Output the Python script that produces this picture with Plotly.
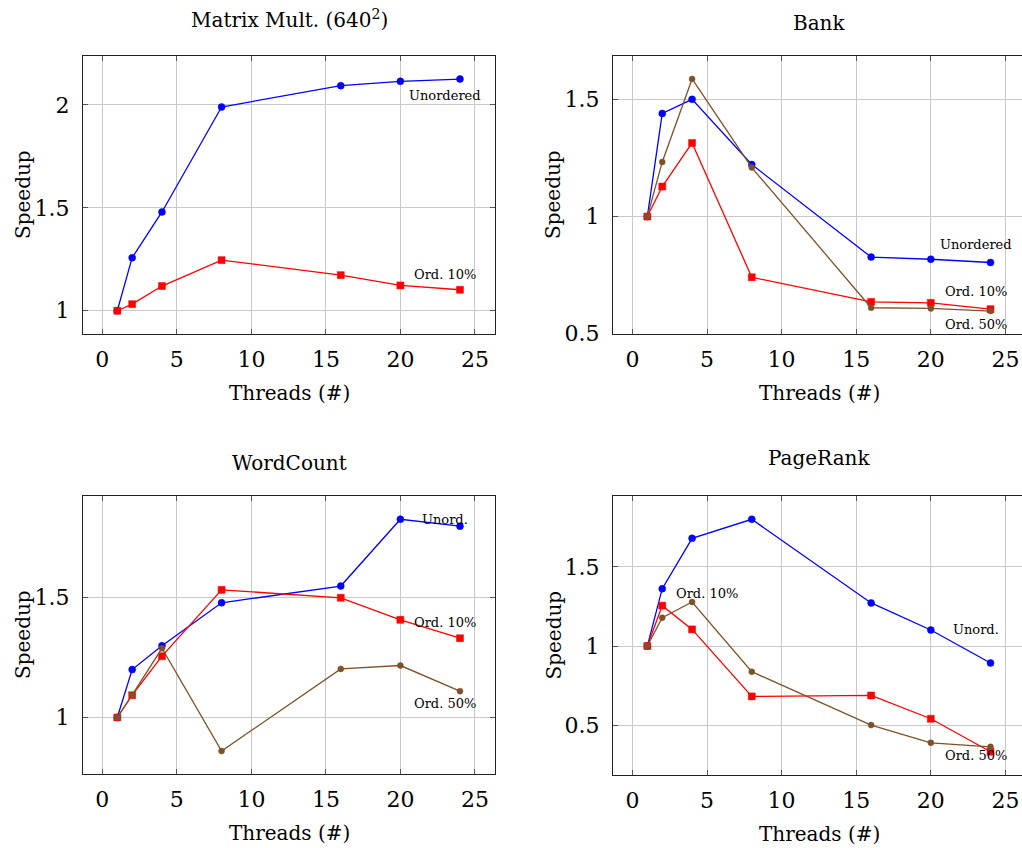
import plotly.graph_objects as go

W, H = 1022, 848

threads = [1, 2, 4, 8, 16, 20, 24]

# Matrix multiplication (640^2)
mm_unordered = [1.0, 1.258, 1.48, 1.99, 2.094, 2.115, 2.126]
mm_ord10 = [1.0, 1.032, 1.12, 1.246, 1.173, 1.123, 1.102]

# Bank
bank_unordered = [1.0, 1.44, 1.5, 1.222, 0.827, 0.818, 0.804]
bank_ord10 = [1.0, 1.128, 1.314, 0.741, 0.636, 0.632, 0.605]
bank_ord50 = [1.0, 1.233, 1.587, 1.209, 0.611, 0.608, 0.597]

# WordCount
wc_unordered = [1.0, 1.2, 1.3, 1.479, 1.549, 1.828, 1.799]
wc_ord10 = [1.0, 1.093, 1.256, 1.533, 1.5, 1.408, 1.331]
wc_ord50 = [1.0, 1.094, 1.289, 0.86, 1.203, 1.217, 1.11]

# PageRank
pr_unordered = [1.0, 1.362, 1.68, 1.8, 1.272, 1.101, 0.893]
pr_ord10 = [1.0, 1.255, 1.105, 0.682, 0.688, 0.541, 0.333]
pr_ord50 = [1.0, 1.179, 1.278, 0.838, 0.501, 0.389, 0.364]

x_ticks = [0, 5, 10, 15, 20, 25]

BLUE = "#0000ff"
RED = "#ff0000"
BROWN = "#7d5228"
SERIF = "DejaVu Serif"


def px_x(p):
    return p / W


def px_y(p):
    return 1 - p / H


# panel frames in pixels: (left, top, right, bottom)
panels = [
    dict(box=(83, 56, 495, 334), xr=[-1.3, 26.35], yr=[0.887, 2.238],
         yt=[1, 1.5, 2], yl=["1", "1.5", "2"], title="Matrix Mult. (640<sup>2</sup>)",
         ty=19, clip_right=False),
    dict(box=(613, 56, 1022, 334), xr=[-1.3, 26.11], yr=[0.499, 1.685],
         yt=[0.5, 1, 1.5], yl=["0.5", "1", "1.5"], title="Bank", ty=23, clip_right=True),
    dict(box=(83, 496, 495, 774), xr=[-1.3, 26.35], yr=[0.764, 1.925],
         yt=[1, 1.5], yl=["1", "1.5"], title="WordCount", ty=463, clip_right=False),
    dict(box=(613, 496, 1022, 775), xr=[-1.3, 26.11], yr=[0.186, 1.947],
         yt=[0.5, 1, 1.5], yl=["0.5", "1", "1.5"], title="PageRank", ty=458, clip_right=True),
]

series = [
    [(mm_unordered, BLUE, "circle", 7), (mm_ord10, RED, "square", 7)],
    [(bank_unordered, BLUE, "circle", 7), (bank_ord10, RED, "square", 7),
     (bank_ord50, BROWN, "circle", 6)],
    [(wc_unordered, BLUE, "circle", 7), (wc_ord10, RED, "square", 7),
     (wc_ord50, BROWN, "circle", 6)],
    [(pr_unordered, BLUE, "circle", 7), (pr_ord10, RED, "square", 7),
     (pr_ord50, BROWN, "circle", 6)],
]

labels = [
    [("Unordered", 23.0, 2.048), ("Ord. 10%", 23.0, 1.176)],
    [("Unordered", 23.0, 0.879), ("Ord. 10%", 23.0, 0.679), ("Ord. 50%", 23.0, 0.538)],
    [("Unord.", 23.0, 1.825), ("Ord. 10%", 23.0, 1.397), ("Ord. 50%", 23.0, 1.058)],
    [("Ord. 10%", 5.0, 1.333), ("Unord.", 23.0, 1.105), ("Ord. 50%", 23.0, 0.312)],
]

fig = go.Figure()
layout = dict(
    width=W, height=H,
    margin=dict(l=0, r=0, t=0, b=0, pad=0, autoexpand=False),
    paper_bgcolor="white", plot_bgcolor="white",
    showlegend=False,
    font=dict(family=SERIF, color="black"),
)
annotations = []

for i, p in enumerate(panels):
    n = i + 1
    xa = "xaxis" if n == 1 else f"xaxis{n}"
    ya = "yaxis" if n == 1 else f"yaxis{n}"
    xref = "x" if n == 1 else f"x{n}"
    yref = "y" if n == 1 else f"y{n}"
    l, t, r, b = p["box"]
    layout[xa] = dict(
        domain=[px_x(l), px_x(r)], range=p["xr"], anchor=yref, automargin=False,
        tickvals=x_ticks, ticktext=[str(v) for v in x_ticks],
        showgrid=True, gridcolor="#c8c8c8", gridwidth=1, zeroline=False,
        showline=True, linecolor="#222222", linewidth=1.3, mirror="ticks",
        ticks="inside", ticklen=5, tickcolor="#555555", tickwidth=1,
        tickfont=dict(family=SERIF, size=22, color="black"),
        ticklabelstandoff=5,
    )
    layout[ya] = dict(
        domain=[px_y(b), px_y(t)], range=p["yr"], anchor=xref, automargin=False,
        tickvals=p["yt"], ticktext=p["yl"],
        showgrid=True, gridcolor="#c8c8c8", gridwidth=1, zeroline=False,
        showline=True, linecolor="#222222", linewidth=1.3,
        mirror=False if p["clip_right"] else "ticks",
        ticks="inside", ticklen=5, tickcolor="#555555", tickwidth=1,
        tickfont=dict(family=SERIF, size=22, color="black"),
        ticklabelstandoff=8,
    )
    for vals, color, sym, size in series[i]:
        fig.add_trace(go.Scatter(
            x=threads, y=vals, xaxis=xref, yaxis=yref, mode="lines+markers",
            line=dict(color=color, width=1.3),
            marker=dict(symbol=sym, size=size, color=color,
                        line=dict(color=color, width=0.5)),
            cliponaxis=False,
        ))
    for text, lx, ly in labels[i]:
        annotations.append(dict(
            text=text, x=lx, y=ly, xref=xref, yref=yref, showarrow=False,
            xanchor="center", yanchor="middle",
            font=dict(family=SERIF, size=13, color="black"),
        ))
    cx = (l + (r if not p["clip_right"] else l + 412)) / 2
    annotations.append(dict(
        text=p["title"], x=px_x(cx), y=px_y(p["ty"]), xref="paper", yref="paper",
        showarrow=False, xanchor="center", yanchor="middle",
        font=dict(family=SERIF, size=20, color="black"),
    ))
    annotations.append(dict(
        text="Threads (#)", x=px_x(cx), y=px_y(b + 59), xref="paper", yref="paper",
        showarrow=False, xanchor="center", yanchor="middle",
        font=dict(family=SERIF, size=20, color="black"),
    ))
    annotations.append(dict(
        text="Speedup", x=px_x(l - 60), y=px_y((t + b) / 2), xref="paper", yref="paper",
        showarrow=False, xanchor="center", yanchor="middle", textangle=-90,
        font=dict(family=SERIF, size=20, color="black"),
    ))

layout["annotations"] = annotations
fig.update_layout(**layout)
fig.write_html("out.html")
